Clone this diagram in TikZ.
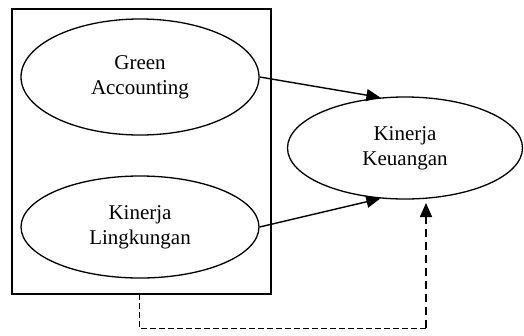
\documentclass[tikz,border=0pt]{standalone}
\usepackage{fontspec}
\setmainfont{Liberation Serif}
\usepackage{xcolor}
\usetikzlibrary{shapes.geometric,arrows.meta}
\definecolor{ModelInk}{HTML}{000000}
\definecolor{ModelPaper}{HTML}{FFFFFF}

\begin{document}
\begin{tikzpicture}[x=1pt,y=-1pt,
    varnode/.style={ellipse, draw=ModelInk, line width=1.3pt, inner sep=0pt,
      align=center, font=\fontsize{21pt}{25pt}\selectfont},
    effect/.style={-{Triangle[length=14pt,width=12pt]}, ModelInk, line width=1.4pt}]
        \useasboundingbox (0,0) rectangle (524,335);
        \fill[ModelPaper] (0,0) rectangle (524,335);
        \node[draw=ModelInk, line width=1.8pt, minimum width=259pt, minimum height=285pt,
          inner sep=0pt] (frame) at (141.5,151.5) {};
        \node[varnode, minimum width=238pt, minimum height=116pt] (green) at (140,77) {Green\\Accounting};
        \node[varnode, minimum width=238pt, minimum height=102pt] (lingk) at (140,227) {Kinerja\\Lingkungan};
        \node[varnode, minimum width=235pt, minimum height=102pt] (keu) at (405,148) {Kinerja\\Keuangan};
        \draw[effect] (green.east) -- (keu.116);
        \draw[effect] (lingk.east) -- (keu.244);
        \coordinate (dashstart) at (139,294);
        \coordinate (dashcorner) at (426,328);
        \coordinate (dashend) at (426,203);
        \draw[ModelInk, line width=0.9pt, dash pattern=on 6pt off 3pt] (dashstart) |- (dashcorner);
        \draw[ModelInk, line width=1.5pt, dash pattern=on 8pt off 5pt,
          -{Triangle[length=14pt,width=12pt]}] (dashcorner) -- (dashend);
      \end{tikzpicture}
\end{document}
